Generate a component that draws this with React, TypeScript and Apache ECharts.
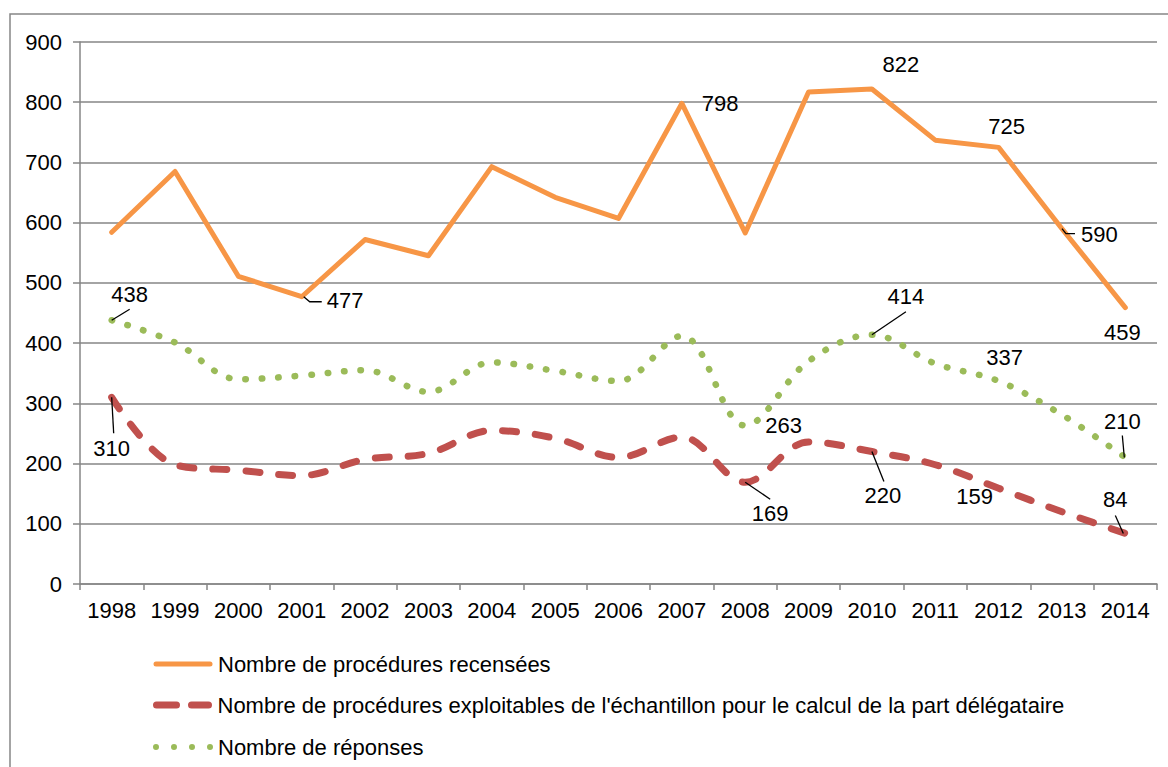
import React, { useEffect, useRef } from "react";
import * as echarts from "echarts";

const years = ["1998", "1999", "2000", "2001", "2002", "2003", "2004", "2005", "2006", "2007", "2008", "2009", "2010", "2011", "2012", "2013", "2014"];
const recensees = [584, 685, 511, 477, 572, 545, 693, 642, 607, 798, 583, 817, 822, 737, 725, 590, 459];
const exploitables = [310, 198, 189, 180, 207, 217, 255, 242, 210, 244, 169, 236, 220, 198, 159, 120, 84];
const reponses = [438, 401, 340, 346, 355, 319, 368, 354, 337, 412, 263, 370, 414, 366, 337, 281, 210];
const yTicks = { min: 0, max: 900, interval: 100 };

const seriesNames = [
  "Nombre de procédures recensées",
  "Nombre de procédures exploitables de l'échantillon pour le calcul de la part délégataire",
  "Nombre de réponses",
];

type LabelCfg = { pos: string; off: [number, number]; leader?: number[][] };

const labelsRecensees: Record<number, LabelCfg> = {
  3: { pos: "right", off: [20, 4], leader: [[2, 0], [8, 5], [20, 5]] },
  9: { pos: "right", off: [15, 0] },
  12: { pos: "top", off: [29, -8] },
  14: { pos: "top", off: [8, -5] },
  15: { pos: "right", off: [14, 6], leader: [[0, 0], [4, 5], [13, 5]] },
  16: { pos: "bottom", off: [-3, 9] },
};
const labelsExploitables: Record<number, LabelCfg> = {
  0: { pos: "bottom", off: [0, 35], leader: [[0, 0], [2, 36]] },
  10: { pos: "bottom", off: [25, 15], leader: [[0, 0], [25, 17]] },
  12: { pos: "bottom", off: [11, 28], leader: [[0, 0], [12, 30]] },
  14: { pos: "bottom", off: [-24, -8] },
  16: { pos: "top", off: [-10, -18], leader: [[-10, -18], [-2, 0]] },
};
const labelsReponses: Record<number, LabelCfg> = {
  0: { pos: "top", off: [18, -10], leader: [[0, 0], [18, -11]] },
  10: { pos: "right", off: [15, 0] },
  12: { pos: "top", off: [34, -22], leader: [[0, 0], [34, -23]] },
  14: { pos: "top", off: [6, -8] },
  16: { pos: "top", off: [-3, -20], leader: [[-3, -22], [-1, 0]] },
};

const FONT = 'Arial, "Liberation Sans", sans-serif';
const FS = 22;

function buildData(values: number[], cfg: Record<number, LabelCfg>) {
  return values.map((v, i) => {
    const l = cfg[i];
    if (!l) return { value: v, label: { show: false } };
    return {
      value: v,
      label: {
        show: true,
        position: l.pos,
        offset: l.off,
        color: "#000",
        fontSize: FS,
        fontFamily: FONT,
      },
    };
  });
}

// leader lines anchored on the data points
const leaderItems: { idx: number; value: number; path: number[][] }[] = [];
[
  [recensees, labelsRecensees],
  [exploitables, labelsExploitables],
  [reponses, labelsReponses],
].forEach(([vals, cfg]: any) => {
  Object.keys(cfg).forEach((k) => {
    const c = cfg[k] as LabelCfg;
    if (c.leader) leaderItems.push({ idx: Number(k), value: vals[Number(k)], path: c.leader });
  });
});

const iconOrange = "path://M3,1 H57 A2.5,2.5 0 0 1 57,6 H3 A2.5,2.5 0 0 1 3,1 Z M0,0 L0,0 M60,7 L60,7";
const iconRed =
  "path://M4,0 H24 A3.5,3.5 0 0 1 24,7 H4 A3.5,3.5 0 0 1 4,0 Z M39,0 H56 A3.5,3.5 0 0 1 56,7 H39 A3.5,3.5 0 0 1 39,0 Z";
const iconGreen =
  "path://M0,3.5 A3,3 0 1 0 6,3.5 A3,3 0 1 0 0,3.5 Z M18,3.5 A3,3 0 1 0 24,3.5 A3,3 0 1 0 18,3.5 Z M36,3.5 A3,3 0 1 0 42,3.5 A3,3 0 1 0 36,3.5 Z M54,3.5 A3,3 0 1 0 60,3.5 A3,3 0 1 0 54,3.5 Z";

const legendTops = [648, 689, 731];
const legendIcons = [iconOrange, iconRed, iconGreen];

export default function App() {
  const ref = useRef<HTMLDivElement>(null);
  useEffect(() => {
    document.body.style.margin = "0";
    const chart = echarts.init(ref.current!, undefined, { renderer: "svg" });
    chart.setOption({
      animation: false,
      backgroundColor: "#fff",
      textStyle: { fontFamily: FONT },
      graphic: [
        {
          type: "rect",
          silent: true,
          shape: { x: 10, y: 14, width: 1400, height: 1000 },
          style: { fill: "none", stroke: "#868686", lineWidth: 1.5 },
        },
      ],
      grid: { left: 80, top: 42, right: 11, bottom: 183 },
      legend: seriesNames.map((n, i) => ({
        orient: "vertical",
        left: 148,
        top: legendTops[i],
        itemWidth: 60,
        itemHeight: 7,
        textStyle: { color: "#000", fontSize: FS, fontFamily: FONT },
        selectedMode: false,
        data: [{ name: n, icon: legendIcons[i] }],
      })),
      xAxis: {
        type: "category",
        data: years,
        boundaryGap: true,
        axisLine: { lineStyle: { color: "#868686", width: 1.5 } },
        axisTick: { show: true, interval: 0, length: 6, lineStyle: { color: "#868686", width: 1.5 } },
        axisLabel: { color: "#000", fontSize: FS, fontFamily: FONT, margin: 15, interval: 0 },
      },
      yAxis: {
        type: "value",
        min: yTicks.min,
        max: yTicks.max,
        interval: yTicks.interval,
        axisLine: { show: true, lineStyle: { color: "#868686", width: 1.5 } },
        axisTick: { show: true, length: 7, lineStyle: { color: "#868686", width: 1.5 } },
        axisLabel: { color: "#000", fontSize: FS, fontFamily: FONT, margin: 18 },
        splitLine: { lineStyle: { color: "#868686", width: 1.5 } },
      },
      series: [
        {
          name: seriesNames[2],
          type: "line",
          data: buildData(reponses, labelsReponses),
          smooth: 0.35,
          symbol: "circle",
          symbolSize: 0.01,
          itemStyle: { color: "#9BBB59" },
          lineStyle: { color: "#9BBB59", width: 6.5, type: [0.5, 16], cap: "round" },
          z: 2,
        },
        {
          name: seriesNames[1],
          type: "line",
          data: buildData(exploitables, labelsExploitables),
          smooth: 0.35,
          symbol: "circle",
          symbolSize: 0.01,
          itemStyle: { color: "#C0504D" },
          lineStyle: { color: "#C0504D", width: 7, type: [14, 19], cap: "round" },
          z: 3,
        },
        {
          name: seriesNames[0],
          type: "line",
          data: buildData(recensees, labelsRecensees),
          smooth: false,
          symbol: "circle",
          symbolSize: 0.01,
          itemStyle: { color: "#F79646" },
          lineStyle: { color: "#F79646", width: 5, cap: "round", join: "round" },
          z: 4,
        },
        {
          name: "leaders",
          type: "custom",
          silent: true,
          z: 5,
          data: leaderItems.map((d) => [d.idx, d.value]),
          renderItem: (params: any, api: any) => {
            const p = api.coord([api.value(0), api.value(1)]);
            const path = leaderItems[params.dataIndex].path;
            return {
              type: "polyline",
              shape: { points: path.map((o) => [p[0] + o[0], p[1] + o[1]]) },
              style: { stroke: "#000", lineWidth: 1.3, fill: "none" },
            };
          },
        },
      ],
    });
    return () => chart.dispose();
  }, []);
  return <div ref={ref} style={{ width: 1168, height: 767 }} />;
}
